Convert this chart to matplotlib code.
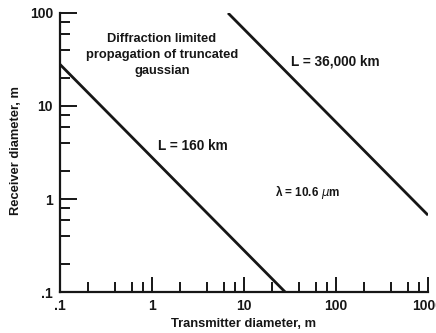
import matplotlib
matplotlib.use("Agg")
import matplotlib.pyplot as plt
from matplotlib.ticker import FixedLocator, FixedFormatter, NullFormatter

# Data
x_160 = [0.1, 28]
y_160 = [28, 0.1]
x_36000 = [6.7, 1000]
y_36000 = [100, 0.67]

x_major = [0.1, 1, 10, 100, 1000]
x_major_labels = [".1", "1", "10", "100", "1000"]
y_major = [0.1, 1, 10, 100]
y_major_labels = [".1", "1", "10", "100"]
minor_mults = [2, 4, 6, 8]

plt.rcParams['font.family'] = ['Liberation Sans', 'DejaVu Sans']
ink = "#161616"

fig = plt.figure(figsize=(4.36, 3.33), dpi=100)
ax = fig.add_axes([0.1376, 0.1231, 0.8441, 0.8379])
ax.set_xscale("log")
ax.set_yscale("log")
ax.set_xlim(0.1, 1000)
ax.set_ylim(0.1, 100)

ax.plot(x_160, y_160, color=ink, lw=2.0, solid_capstyle="butt")
ax.plot(x_36000, y_36000, color=ink, lw=2.0, solid_capstyle="butt")

for s in ["top", "right"]:
    ax.spines[s].set_visible(False)
for s in ["left", "bottom"]:
    ax.spines[s].set_linewidth(1.6)
    ax.spines[s].set_color(ink)

xminor = [m * d for d in [0.1, 1, 10, 100] for m in minor_mults]
yminor = [m * d for d in [0.1, 1, 10] for m in minor_mults]
ax.xaxis.set_major_locator(FixedLocator(x_major))
ax.xaxis.set_major_formatter(FixedFormatter(x_major_labels))
ax.xaxis.set_minor_locator(FixedLocator(xminor))
ax.xaxis.set_minor_formatter(NullFormatter())
ax.yaxis.set_major_locator(FixedLocator(y_major))
ax.yaxis.set_major_formatter(FixedFormatter(y_major_labels))
ax.yaxis.set_minor_locator(FixedLocator(yminor))
ax.yaxis.set_minor_formatter(NullFormatter())

ax.tick_params(axis="both", which="major", direction="in", length=11, width=1.4,
               color=ink, labelsize=10, labelcolor=ink, pad=5)
ax.tick_params(axis="both", which="minor", direction="in", length=7.5, width=1.4, color=ink)
ax.tick_params(axis="y", which="major", length=12.5)
for lab in ax.get_xticklabels() + ax.get_yticklabels():
    lab.set_fontweight("bold")

ax.set_xlabel("Transmitter diameter, m", fontsize=9.3, fontweight="bold", color=ink)
ax.set_ylabel("Receiver diameter, m", fontsize=9.3, fontweight="bold", color=ink)
# place axis labels where the reference has them (pixel positions -> axes coords)
ax.xaxis.set_label_coords((243 - 60) / 368, -(324 - 292) / 279)
ax.xaxis.label.set_va("center")
ax.yaxis.set_label_coords(-(60 - 16) / 368, (292 - 151) / 279)
ax.yaxis.label.set_va("center")

fig.text(162/436, 1 - 55/333, "Diffraction limited\npropagation of truncated\ngaussian",
         ha="center", va="center", fontsize=9.3, fontweight="bold", color=ink, linespacing=1.4)
fig.text(158/436, 1 - 146/333, "L = 160 km", ha="left", va="center",
         fontsize=9.8, fontweight="bold", color=ink)
fig.text(291/436, 1 - 62/333, "L = 36,000 km", ha="left", va="center",
         fontsize=9.8, fontweight="bold", color=ink)
fig.text(308/436, 1 - 192/333, "λ = 10.6 $\\mu$m", ha="center", va="center",
         fontsize=8.5, fontweight="bold", color=ink)

fig.savefig("out.png", dpi=100, facecolor="white")
